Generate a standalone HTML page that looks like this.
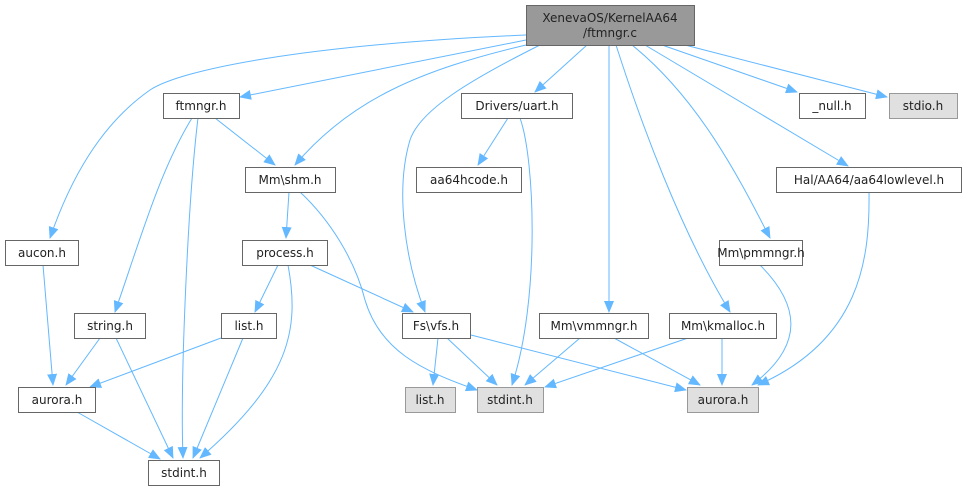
<!DOCTYPE html>
<html><head><meta charset="utf-8"><style>
html,body{margin:0;padding:0;background:#fff;width:967px;height:491px;overflow:hidden}
svg text{font-family:"DejaVu Sans","Liberation Sans",sans-serif;font-size:12px;fill:#222;text-anchor:middle}
</style></head><body>
<svg width="967" height="491" viewBox="0 0 967 491" xmlns="http://www.w3.org/2000/svg">
<defs><marker id="a" markerUnits="userSpaceOnUse" markerWidth="12" markerHeight="10" refX="11" refY="5" orient="auto"><path d="M0,0 L12,5 L0,10 z" fill="#63b8ff"/></marker></defs>
<g fill="none" stroke="#63b8ff" stroke-width="1" marker-end="url(#a)">
<path d="M526,35 C300,45 180,70 150,90 C100,125 70,180 50,238"/>
<path d="M526,40 L240,97"/>
<path d="M526,45 C420,70 350,100 295,165"/>
<path d="M540,45 C470,80 420,110 410,140 C395,190 405,260 425,312"/>
<path d="M587,45 L535,92"/>
<path d="M609,45 L609,312"/>
<path d="M616,45 C640,120 680,230 730,312"/>
<path d="M632,45 C700,100 740,180 770,238"/>
<path d="M645,45 L848,166"/>
<path d="M662,45 L797,92"/>
<path d="M685,45 L887,97"/>
<path d="M215,118 L275,165"/>
<path d="M192,118 C160,170 140,240 115,312"/>
<path d="M198,118 C188,200 180,380 183,458"/>
<path d="M278,265 L255,312"/>
<path d="M310,265 L413,312"/>
<path d="M288,265 C300,330 290,380 200,458"/>
<path d="M289,192 L286,238"/>
<path d="M300,192 C330,220 355,260 365,300 C380,350 420,370 477,390"/>
<path d="M508,118 L478,165"/>
<path d="M520,118 C535,160 540,300 512,385"/>
<path d="M43,265 L53,385"/>
<path d="M100,338 L66,385"/>
<path d="M116,338 L173,458"/>
<path d="M221,338 L90,387"/>
<path d="M243,338 L193,458"/>
<path d="M77,412 L160,459"/>
<path d="M438,338 L433,385"/>
<path d="M447,338 L497,385"/>
<path d="M471,335 L686,390"/>
<path d="M580,338 L525,385"/>
<path d="M614,338 L700,385"/>
<path d="M688,338 L545,387"/>
<path d="M722,338 L722,385"/>
<path d="M760,265 C800,305 805,345 752,385"/>
<path d="M869,192 C870,260 860,340 758,385"/>
</g>
<g stroke-width="1">
<rect x="526.5" y="5.5" width="168" height="40" fill="#999" stroke="#666"/>
<g fill="#fff" stroke="#666">
<rect x="163.5" y="93.5" width="76" height="25"/>
<rect x="245.5" y="167.5" width="90" height="25"/>
<rect x="416.5" y="167.5" width="105" height="25"/>
<rect x="461.5" y="93.5" width="111" height="25"/>
<rect x="799.5" y="93.5" width="66" height="25"/>
<rect x="776.5" y="167.5" width="185" height="25"/>
<rect x="719.5" y="240.5" width="83" height="25"/>
<rect x="5.5" y="240.5" width="73" height="25"/>
<rect x="242.5" y="240.5" width="85" height="25"/>
<rect x="74.5" y="313.5" width="71" height="25"/>
<rect x="221.5" y="313.5" width="55" height="25"/>
<rect x="402.5" y="313.5" width="68" height="25"/>
<rect x="539.5" y="313.5" width="109" height="25"/>
<rect x="669.5" y="313.5" width="107" height="25"/>
<rect x="18.5" y="387.5" width="77" height="25"/>
<rect x="148.5" y="460.5" width="71" height="25"/>
</g>
<g fill="#e0e0e0" stroke="#999">
<rect x="889.5" y="93.5" width="68" height="25"/>
<rect x="405.5" y="387.5" width="50" height="25"/>
<rect x="477.5" y="387.5" width="66" height="25"/>
<rect x="687.5" y="387.5" width="71" height="25"/>
</g>
</g>
<text x="610" y="22">XenevaOS/KernelAA64</text><text x="610" y="37">/ftmngr.c</text>
<text x="201" y="110">ftmngr.h</text>
<text x="290" y="184">Mm\shm.h</text>
<text x="469" y="184">aa64hcode.h</text>
<text x="517" y="110">Drivers/uart.h</text>
<text x="832" y="110">_null.h</text>
<text x="923" y="110">stdio.h</text>
<text x="869" y="184">Hal/AA64/aa64lowlevel.h</text>
<text x="761" y="257">Mm\pmmngr.h</text>
<text x="42" y="257">aucon.h</text>
<text x="285" y="257">process.h</text>
<text x="110" y="330">string.h</text>
<text x="249" y="330">list.h</text>
<text x="436" y="330">Fs\vfs.h</text>
<text x="594" y="330">Mm\vmmngr.h</text>
<text x="723" y="330">Mm\kmalloc.h</text>
<text x="57" y="404">aurora.h</text>
<text x="184" y="477">stdint.h</text>
<text x="430" y="404">list.h</text>
<text x="510" y="404">stdint.h</text>
<text x="723" y="404">aurora.h</text>
</svg>
</body></html>
